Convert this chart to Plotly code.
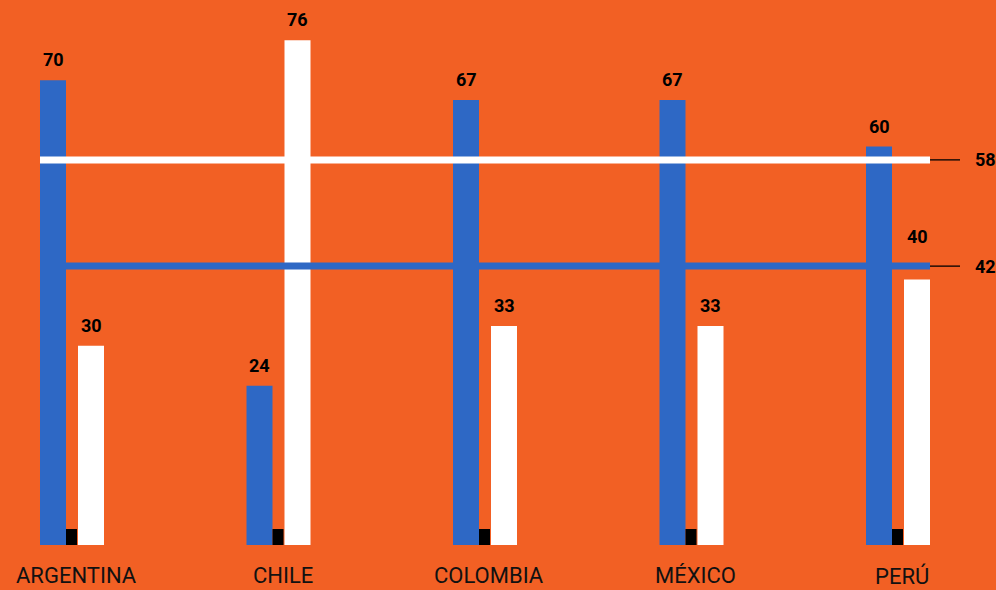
import plotly.graph_objects as go

categories = ["ARGENTINA", "CHILE", "COLOMBIA", "MÉXICO", "PERÚ"]
blue_values = [70, 24, 67, 67, 60]
white_values = [30, 76, 33, 33, 40]
white_ref_value = 58
blue_ref_value = 42

ORANGE = "#F26024"
BLUE = "#2E68C5"
WHITE = "#FFFFFF"

PX = 206.5            # pixels per category unit
off = 19 / PX
bw = 26 / PX
idx = list(range(len(categories)))
xb = [i - off for i in idx]
xw = [i + off for i in idx]

fig = go.Figure()
fig.add_trace(go.Bar(x=xb, y=blue_values, width=bw, marker=dict(color=BLUE, line=dict(width=0)),
                     hoverinfo="y", showlegend=False))
fig.add_trace(go.Bar(x=xw, y=white_values, width=bw, marker=dict(color=WHITE, line=dict(width=0)),
                     hoverinfo="y", showlegend=False))

shapes = []
# small black squares at the base between bars
for i in idx:
    shapes.append(dict(type="rect", xref="x", yref="y", x0=i - 0.5 / PX - 5.5 / PX, x1=i - 0.5 / PX + 5.5 / PX,
                       y0=0, y1=16 / 6.64, fillcolor="black", line=dict(width=0), layer="above"))

x_start = xb[0] - bw / 2
x_end = xw[-1] + bw / 2
for val, col in [(white_ref_value, WHITE), (blue_ref_value, BLUE)]:
    shapes.append(dict(type="line", xref="x", yref="y", x0=x_start, x1=x_end, y0=val, y1=val,
                       line=dict(color=col, width=7), layer="above"))
    shapes.append(dict(type="line", xref="x", yref="y", x0=x_end, x1=x_end + 30 / PX, y0=val, y1=val,
                       line=dict(color="black", width=1.3), layer="above"))

annotations = []
lab_font = dict(family="Roboto, Liberation Sans, sans-serif", size=18, color="black")
for i in idx:
    annotations.append(dict(x=xb[i], y=blue_values[i], text=f"<b>{blue_values[i]}</b>", showarrow=False,
                            xanchor="center", yanchor="bottom", yshift=8, font=lab_font))
    extra = 30 if white_values[i] < blue_ref_value and white_values[i] + 8 > blue_ref_value else 8
    annotations.append(dict(x=xw[i], y=white_values[i], text=f"<b>{white_values[i]}</b>", showarrow=False,
                            xanchor="center", yanchor="bottom", yshift=extra, font=lab_font))
    annotations.append(dict(x=i, y=0, xref="x", yref="y", text=categories[i], showarrow=False,
                            xanchor="center", yanchor="top", yshift=-16, xshift=4,
                            font=dict(family="Roboto, sans-serif", size=22, color="#111111")))
for val in [white_ref_value, blue_ref_value]:
    annotations.append(dict(x=1, xref="paper", y=val, yref="y", text=f"<b>{val}</b>", showarrow=False,
                            xanchor="right", yanchor="middle", xshift=2, font=lab_font))

fig.update_layout(
    width=996, height=590,
    margin=dict(l=0, r=0, t=0, b=45),
    paper_bgcolor=ORANGE, plot_bgcolor=ORANGE,
    barmode="overlay",
    xaxis=dict(range=[-72 / PX, (996 - 72) / PX], visible=False, fixedrange=True),
    yaxis=dict(range=[0, 545 / 6.64], visible=False, fixedrange=True),
    shapes=shapes, annotations=annotations,
)

fig.write_html("out.html", config={"displayModeBar": False},
               post_script="document.body.style.margin='0';document.body.style.overflow='hidden';")
